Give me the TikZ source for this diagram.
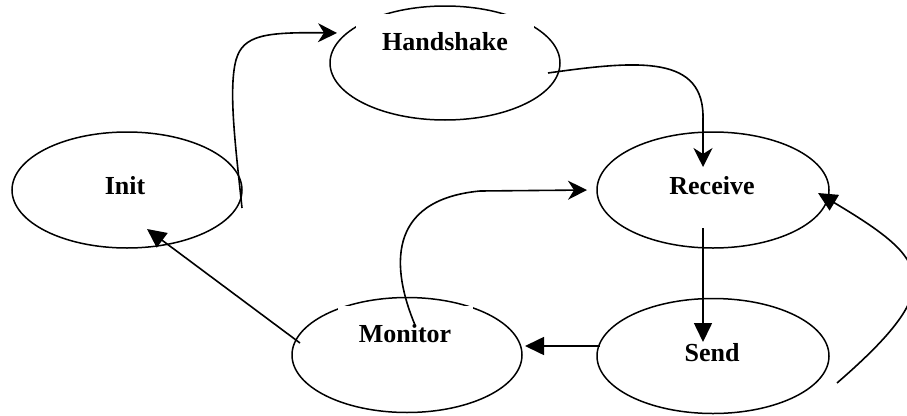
\documentclass[tikz,border=0pt]{standalone}
\usepackage{fontspec}
\setmainfont{Liberation Serif}
\usetikzlibrary{shapes.geometric,arrows.meta}
\begin{document}
\begin{tikzpicture}[x=1pt,y=-1pt,
  st/.style={draw,ellipse,line width=1.5pt,inner sep=0pt},
  lbl/.style={font=\fontsize{26}{30}\selectfont\bfseries,fill=white,text height=18pt,text depth=6pt,inner ysep=18pt,inner xsep=20pt,anchor=north},
  arr/.style={line width=1.6pt,-{Stealth[length=19pt,width=19pt,inset=6pt]}},
  tri/.style={line width=1.6pt,-{Triangle[length=19pt,width=18pt]}}]
\clip (0,0) rectangle (907,415);
% states
\node[st,minimum width=230pt,minimum height=114pt] (hs) at (445,63) {};
\node[st,minimum width=230pt,minimum height=116pt] (in) at (127,190) {};
\node[st,minimum width=232pt,minimum height=116pt] (rc) at (713,190) {};
\node[st,minimum width=232pt,minimum height=115pt] (sd) at (713,356) {};
\node[st,minimum width=230pt,minimum height=115pt] (mo) at (407,355) {};
% labels
\node[lbl,minimum width=178pt] (hst) at (445,14) {Handshake};
\node[lbl] (int) at (125,158) {Init};
\node[lbl] (rct) at (712,158) {Receive};
\node[lbl] (sdt) at (712,325) {Send};
\node[lbl,minimum width=135pt] (mot) at (405,306) {Monitor};
% connector ends
\coordinate (inA) at (242,208);
\coordinate (hsIn) at (337,33);
\coordinate (hsOut) at (548,73);
\coordinate (rcTop) at (703,167);
\coordinate (rcBot) at (703,228);
\coordinate (sdTop) at (703,342);
\coordinate (sdL) at (600,346);
\coordinate (moR) at (525,346);
\coordinate (moL) at (300,343);
\coordinate (inB) at (147,229);
\coordinate (moIn) at (415,325);
\coordinate (rcL) at (587,190);
\coordinate (sdR) at (837,383);
\coordinate (rcR) at (818,193);
% connectors
\draw[arr] (inA) .. controls (236,150) and (228,90) .. (236,60) .. controls (243,35) and (265,32) .. (hsIn);
\draw[arr] (hsOut) .. controls (640,60) and (705,55) .. (703,120) -- (rcTop);
\draw[tri] (rcBot) -- (sdTop);
\draw[tri] (sdL) -- (moR);
\draw[tri] (moL) -- (inB);
\draw[arr] (moIn) .. controls (392,270) and (385,200) .. (480,191) -- (rcL);
\draw[tri] (sdR) .. controls (950,285) and (930,260) .. (rcR);
\end{tikzpicture}
\end{document}
